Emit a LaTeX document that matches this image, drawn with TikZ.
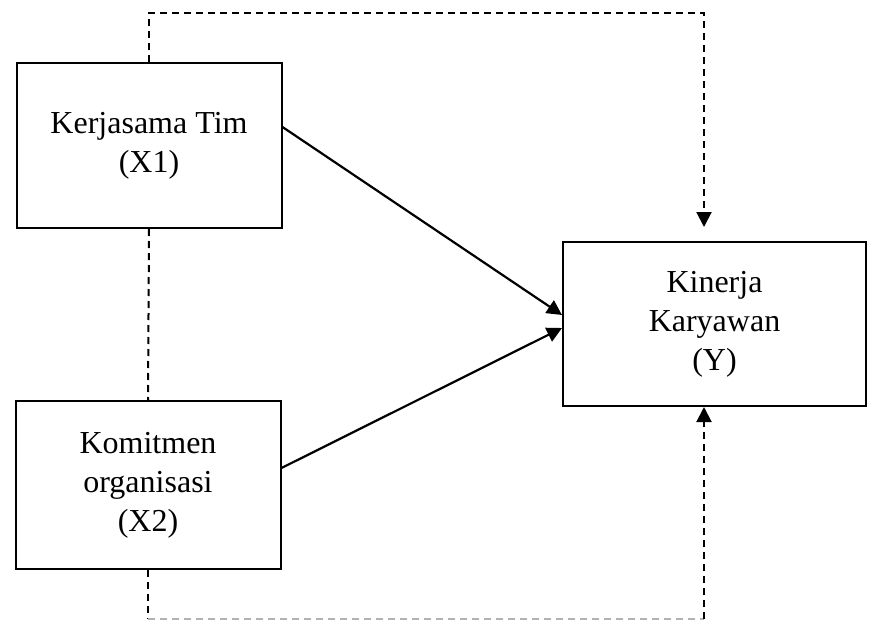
\documentclass[tikz,border=0pt]{standalone}
\usepackage{fontspec}
\setmainfont{Liberation Serif}
\usetikzlibrary{arrows.meta}
\begin{document}
\begin{tikzpicture}[x=1pt,y=-1pt,
  box/.style={draw,line width=2pt,rectangle,align=center,inner sep=0pt,
    font=\fontsize{32}{39}\selectfont},
  conn/.style={line width=2.2pt,-{Triangle[length=15pt,width=15pt]}},
  dline/.style={line width=2pt,dash pattern=on 7pt off 5pt}]
\useasboundingbox (0,0) rectangle (873,621);
\node[box,minimum width=265pt,minimum height=165pt] (X1) at (149,145.5) {Kerjasama Tim\\(X1)};
\node[box,minimum width=265pt,minimum height=168pt] (X2) at (148,485) {Komitmen\\organisasi\\(X2)};
\node[box,minimum width=303pt,minimum height=164pt] (Y) at (714.5,324) {Kinerja\\Karyawan\\(Y)};
\coordinate (tr) at (704,13);
\coordinate (ytop) at (704,227);
\coordinate (bl) at (148,619);
\coordinate (br) at (704,619);
\draw[dline,-{Triangle[length=15pt,width=15pt]}] (X1.north) |- (tr) -- (ytop);
\draw[dline] (X1.south) -- (X2.north);
\draw[dline] (X2.south) -- (bl);
\draw[dline,gray!60,line width=1.2pt] (bl) -- (br);
\draw[dline,-{Triangle[length=15pt,width=15pt]}] (br) -- (Y.south -| br);
\draw[conn] ([yshift=18.5pt]X1.east) -- ([yshift=9pt]Y.west);
\draw[conn] ([yshift=17pt]X2.east) -- ([yshift=-4pt]Y.west);
\end{tikzpicture}
\end{document}
